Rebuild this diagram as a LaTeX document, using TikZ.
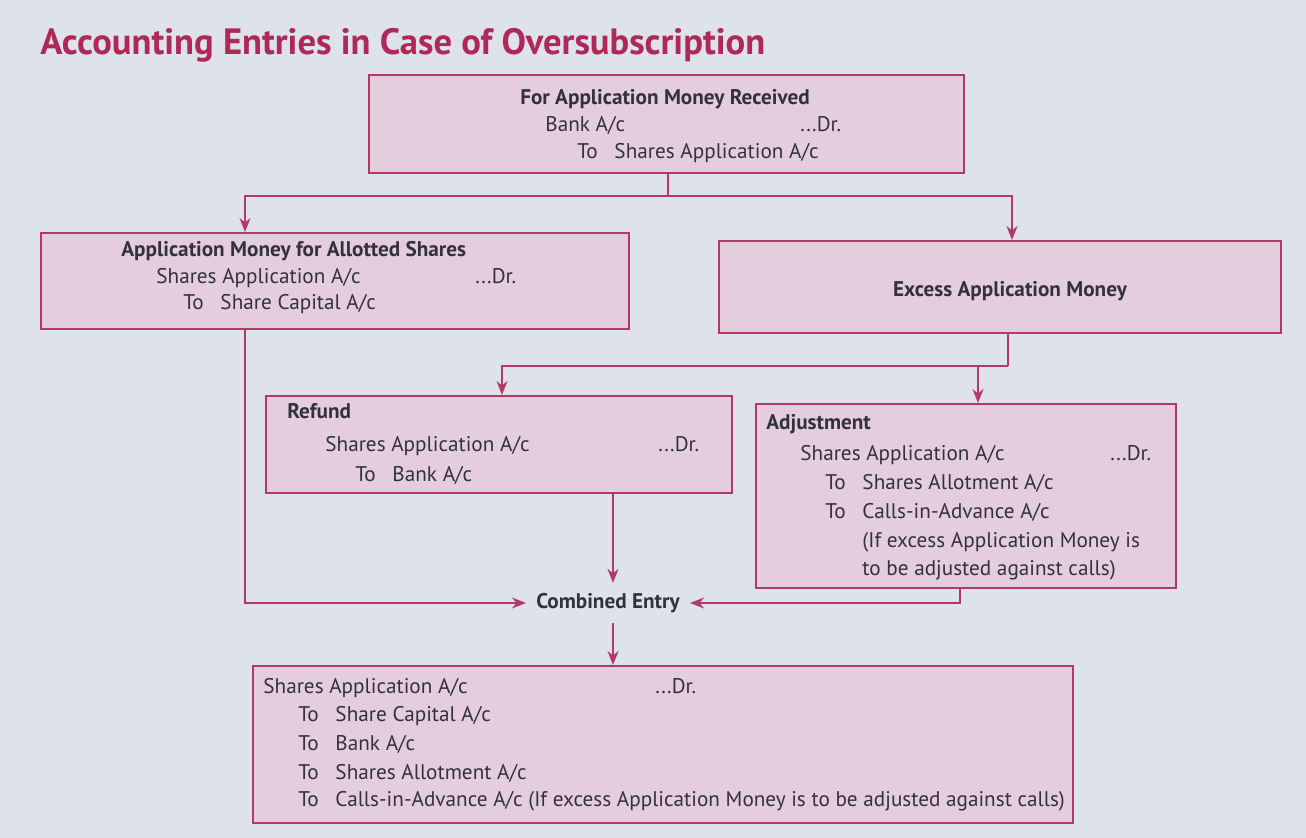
\documentclass[tikz,border=0pt]{standalone}
\usepackage{fontspec}
\setmainfont{PT Sans}
\usetikzlibrary{arrows.meta}

\definecolor{pagebg}{RGB}{221,226,235}
\definecolor{boxfill}{RGB}{228,206,221}
\definecolor{crim}{RGB}{178,58,100}
\definecolor{titlecol}{RGB}{176,40,88}
\definecolor{ink}{RGB}{50,50,56}

\tikzset{
  entry/.style={draw=crim, fill=boxfill, line width=1pt, anchor=north west, inner sep=0pt},
  txt/.style={anchor=base west, inner sep=0pt, text=ink, font=\fontsize{10.6}{13}\selectfont},
  link/.style={draw=crim, line width=0.9pt},
  flow/.style={link, -{Stealth[length=7pt,width=5.5pt]}},
}
\newcommand{\To}{\makebox[1.75em][l]{To}}

\begin{document}
\begin{tikzpicture}[x=0.5pt,y=-0.5pt]
  \fill[pagebg] (0,0) rectangle (1306,838);
  \useasboundingbox (0,0) rectangle (1306,838);

  \node[anchor=base west, inner sep=0pt, text=titlecol, font=\fontsize{18.3}{21}\selectfont\bfseries] (title) at (40,55) {Accounting Entries in Case of Oversubscription};

  % boxes
  \node[entry, minimum width=297.5pt, minimum height=49pt] (top) at (368,74) {};
  \node[entry, minimum width=294pt, minimum height=48pt] (allot) at (40,232) {};
  \node[entry, minimum width=281pt, minimum height=46pt] (excess) at (718,240) {};
  \node[entry, minimum width=233pt, minimum height=48.5pt] (refund) at (265,395) {};
  \node[entry, minimum width=210pt, minimum height=92pt] (adjust) at (755,403) {};
  \node[entry, minimum width=410pt, minimum height=78.5pt] (final) at (252,665) {};

  % top box
  \node[txt, anchor=base, font=\fontsize{10.6}{13}\selectfont\bfseries] (tophead) at (665,105) {For Application Money Received};
  \node[txt] (topdr) at (545,132) {Bank A/c};
  \node[txt] (topdrx) at (800,132) {...Dr.};
  \node[txt] (topcr) at (577,159) {\To Shares Application A/c};

  % allotted shares
  \node[txt, font=\fontsize{10.6}{13}\selectfont\bfseries] (allothead) at (121,257) {Application Money for Allotted Shares};
  \node[txt] (allotdr) at (156,284) {Shares Application A/c};
  \node[txt] (allotdrx) at (475,284) {...Dr.};
  \node[txt] (allotcr) at (183,310) {\To Share Capital A/c};

  % excess money
  \node[txt, anchor=base, font=\fontsize{10.6}{13}\selectfont\bfseries] (excesshead) at (1010,297) {Excess Application Money};

  % refund
  \node[txt, font=\fontsize{10.6}{13}\selectfont\bfseries] (refundhead) at (287,419) {Refund};
  \node[txt] (refunddr) at (325,452) {Shares Application A/c};
  \node[txt] (refunddrx) at (658,452) {...Dr.};
  \node[txt] (refundcr) at (355,482) {\To Bank A/c};

  % adjustment
  \node[txt, font=\fontsize{10.6}{13}\selectfont\bfseries] (adjusthead) at (766,430) {Adjustment};
  \node[txt] (adjustdr) at (800,461) {Shares Application A/c};
  \node[txt] (adjustdrx) at (1110,461) {...Dr.};
  \node[txt] (adjustcra) at (825,490) {\To Shares Allotment A/c};
  \node[txt] (adjustcrb) at (825,519) {\To Calls-in-Advance A/c};
  \node[txt] (adjustnotea) at (862,548) {(If excess Application Money is};
  \node[txt] (adjustnoteb) at (862,576) {to be adjusted against calls)};

  % combined entry
  \node[text=ink, inner sep=5pt, font=\fontsize{10.6}{13}\selectfont\bfseries] (comb) at (608,603) {Combined Entry};
  \node[txt] (finaldr) at (263,694) {Shares Application A/c};
  \node[txt] (finaldrx) at (655,694) {...Dr.};
  \node[txt] (finalcra) at (298,722) {\To Share Capital A/c};
  \node[txt] (finalcrb) at (298,750) {\To Bank A/c};
  \node[txt] (finalcrc) at (298,779) {\To Shares Allotment A/c};
  \node[txt] (finalcrd) at (298,806) {\To Calls-in-Advance A/c (If excess Application Money is to be adjusted against calls)};

  % connectors
  \coordinate (ja) at (668,196);
  \coordinate (jl) at (245,196);
  \coordinate (jr) at (1012,196);
  \draw[link] (top.south -| ja) -- (ja);
  \draw[flow] (ja) -| (allot.north -| jl);
  \draw[flow] (ja) -| (excess.north -| jr);

  \coordinate (ka) at (1008,366);
  \coordinate (kl) at (502,366);
  \coordinate (kr) at (978,366);
  \draw[link] (excess.south -| ka) -- (ka);
  \draw[flow] (ka) -| (refund.north -| kl);
  \draw[flow] (ka) -| (adjust.north -| kr);

  \coordinate (cx) at (613,0);
  \coordinate (ax) at (960,0);
  \draw[flow] (allot.south -| jl) |- (comb.west);
  \draw[flow] (refund.south -| cx) -- (comb.north -| cx);
  \draw[flow] (adjust.south -| ax) |- (comb.east);
  \draw[flow] (comb.south -| cx) -- (final.north -| cx);
\end{tikzpicture}
\end{document}
